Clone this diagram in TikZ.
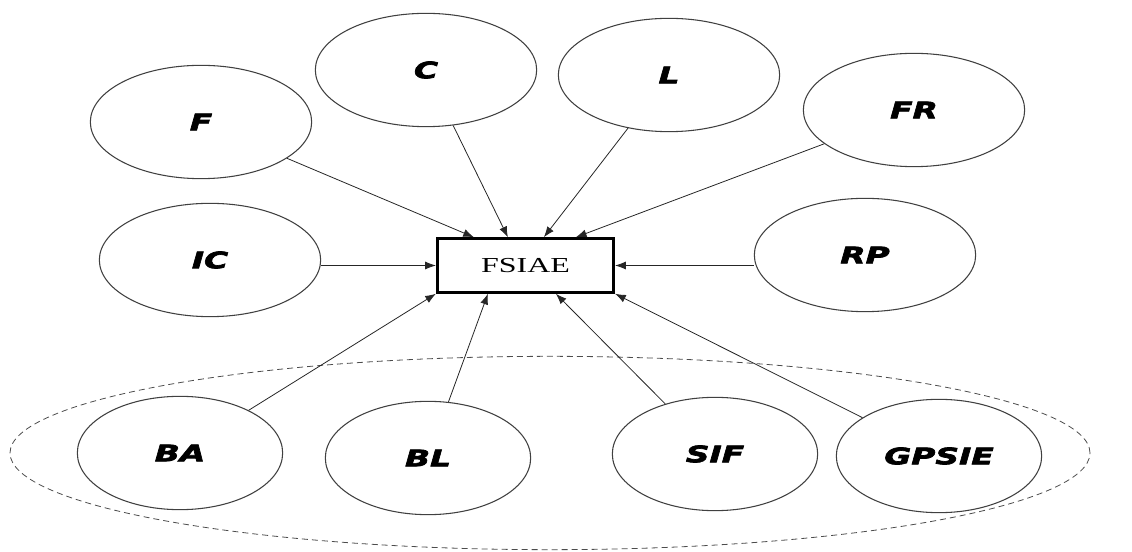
\documentclass[tikz,border=0pt]{standalone}
\usepackage{fontspec}
\newfontfamily\boxfont{Liberation Serif}[FakeStretch=1.5]
\newfontfamily\ovalfont{DejaVu Sans}[FakeStretch=1.45,
  BoldItalicFeatures={FakeBold=3}]
\usetikzlibrary{calc,shapes.geometric,arrows.meta}

\begin{document}
\begin{tikzpicture}[x=0.75pt,y=-0.75pt,
    factor/.style={draw=black!75,line width=0.8pt,ellipse,
      minimum width=166pt,minimum height=85pt,
      font=\ovalfont\bfseries\itshape\fontsize{17}{20}\selectfont},
    lowfactor/.style={factor,minimum width=154pt},
    arr/.style={-{Latex[length=8pt,width=6pt]},line width=0.6pt,black!85}]
  \useasboundingbox (0,0) rectangle (1132,552);
  \node[draw=black!70,dash pattern=on 4.5pt off 3pt,line width=0.6pt,ellipse,
    minimum width=810pt,minimum height=145pt] (group) at (550,453) {};
  % upper factors
  \node[factor] (F) at (201,122) {F};
  \node[factor] (C) at (426,70) {C};
  \node[factor] (L) at (669,75) {L};
  \node[factor] (FR) at (914,110) {FR};
  \node[factor] (IC) at (210,260) {IC};
  \node[factor] (RP) at (865,255) {RP};
  % lower factors
  \node[lowfactor] (BA) at (180,453) {BA};
  \node[lowfactor] (BL) at (428,458) {BL};
  \node[lowfactor] (SIF) at (715,454) {SIF};
  \node[lowfactor] (GPSIE) at (939,456) {GPSIE};
  \node[draw,line width=2.4pt,minimum width=132pt,minimum height=40pt,
    font=\boxfont\fontsize{16}{19}\selectfont] (box) at (525.5,265.5) {FSIAE};
  \draw[arr] (F) -- ($(box.north west)+(38,0)$);
  \draw[arr] (C) -- ($(box.north west)+(72,0)$);
  \draw[arr] (L) -- ($(box.north west)+(108,0)$);
  \draw[arr] (FR) -- ($(box.north west)+(140,0)$);
  \draw[arr] (IC.east |- box.west) -- (box.west);
  \draw[arr] (RP.west |- box.east) -- (box.east);
  \draw[arr] (BA) -- (box.south west);
  \draw[arr] (BL) -- ($(box.south west)+(52,0)$);
  \draw[arr] (SIF) -- ($(box.south west)+(120,0)$);
  \draw[arr] (GPSIE) -- (box.south east);
\end{tikzpicture}
\end{document}
